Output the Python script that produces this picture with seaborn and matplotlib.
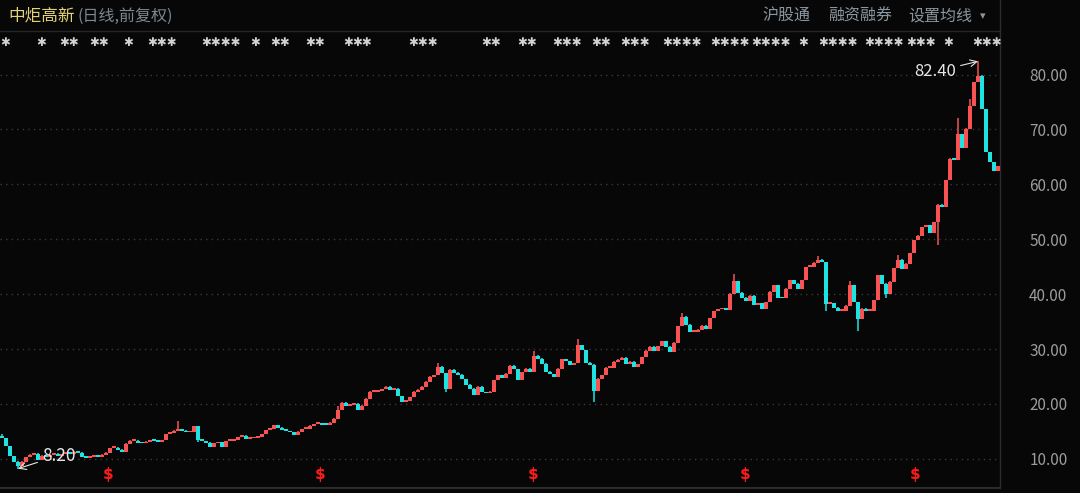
import numpy as np
import matplotlib
matplotlib.use("Agg")
import matplotlib.pyplot as plt
import seaborn as sns

# -----------------------------
# Data (daily closes, one value per candle)
# -----------------------------
closes = [
    13.8, 12.4, 10.6, 9.6, 8.8, 9.6, 10.4, 10.8, 11.0, 9.9,
    10.7, 10.4, 10.8, 11.0, 10.6, 10.9, 11.2, 11.0, 11.4, 11.2,
    10.4, 10.2, 10.4, 10.7, 10.5, 10.8, 11.2, 12.0, 12.1, 11.7,
    11.3, 12.8, 13.4, 13.4, 13.0, 12.9, 13.2, 13.4, 13.3, 13.1,
    13.5, 14.6, 14.8, 15.2, 15.5, 15.2, 14.9, 15.0, 16.0, 13.6,
    13.3, 13.0, 12.3, 12.9, 13.1, 12.3, 13.3, 13.4, 13.5, 14.0,
    14.3, 13.7, 13.8, 13.9, 14.1, 14.6, 15.3, 15.6, 16.2, 15.8,
    15.4, 15.1, 14.9, 14.5, 15.0, 15.5, 15.6, 16.1, 16.4, 16.4,
    16.3, 16.2, 16.7, 17.4, 18.9, 20.3, 19.8, 19.9, 20.1, 18.9,
    19.8, 21.0, 22.3, 22.3, 22.5, 22.8, 23.2, 22.6, 22.9, 21.5,
    20.4, 20.6, 21.3, 22.3, 22.7, 23.2, 24.1, 25.0, 25.3, 26.9,
    25.7, 22.8, 26.3, 25.8, 25.4, 24.6, 23.6, 22.9, 21.8, 23.2,
    22.2, 22.0, 22.3, 24.4, 25.3, 24.9, 25.6, 27.0, 26.4, 24.4,
    25.9, 26.5, 25.9, 28.9, 28.3, 27.4, 26.0, 25.5, 25.0, 26.5,
    28.2, 27.9, 27.2, 27.5, 30.8, 29.9, 27.6, 27.2, 22.5, 24.7,
    25.3, 26.7, 26.7, 27.8, 28.1, 28.5, 27.3, 27.8, 26.8, 27.3,
    28.6, 29.8, 30.5, 29.7, 30.6, 31.5, 30.5, 29.6, 31.2, 34.2,
    36.0, 34.5, 33.2, 33.2, 33.6, 34.3, 33.8, 35.7, 37.0, 37.3,
    37.3, 37.2, 40.2, 42.4, 40.3, 39.4, 38.9, 39.8, 38.2, 38.4,
    37.4, 38.6, 40.5, 41.7, 39.4, 39.3, 41.1, 42.6, 42.0, 41.1,
    42.6, 45.0, 45.0, 45.8, 46.4, 45.9, 38.3, 38.4, 37.6, 37.1,
    37.1, 38.0, 41.7, 38.6, 35.6, 37.4, 37.0, 37.1, 39.0, 43.5,
    42.0, 40.2, 42.3, 44.8, 46.4, 44.7, 45.6, 47.5, 49.9, 50.7,
    52.3, 52.6, 51.2, 53.2, 56.4, 56.0, 60.8, 64.7, 64.5, 69.2,
    66.8, 70.2, 74.4, 78.7, 79.9, 73.8, 65.9, 64.1, 62.6, 63.4,
]
first_open = 14.3

# wick extremes that stand out from the bodies
high_spikes = {0: 14.6, 44: 16.8, 84: 19.6, 109: 27.5, 133: 29.6, 144: 31.9,
               170: 36.6, 183: 43.6, 204: 47.0, 212: 42.4, 224: 47.2,
               239: 72.0, 242: 75.5, 244: 82.4, 246: 69.0}
low_spikes = {4: 8.2, 49: 13.0, 111: 22.2, 148: 20.4, 206: 37.0,
              214: 33.2, 221: 39.2, 234: 49.0}

y_ticks = [10, 20, 30, 40, 50, 60, 70, 80]
y_tick_labels = ["10.00", "20.00", "30.00", "40.00", "50.00", "60.00", "70.00", "80.00"]

title_name = "中炬高新"
title_note = "(日线,前复权)"
header_items = ["沪股通", "融资融券", "设置均线"]

max_label = "82.40"
min_label = "8.20"

# red "$" markers and blurred marker clusters along the top (candle index, count)
dollar_idx = [26.5, 79.5, 132.75, 185.75, 228.25]
marker_groups = [(0.75, 1), (9.75, 1), (16.75, 2), (24.25, 2), (31.5, 1), (40, 3),
                 (54.75, 4), (63.25, 1), (69.5, 2), (78.25, 2), (86.5, 1), (90, 2),
                 (105.25, 3), (122.25, 2), (131.25, 2), (141.25, 3), (149.75, 2),
                 (158.25, 3), (170, 4), (182, 4), (192.25, 4), (200.25, 1),
                 (209, 4), (220.5, 4), (229.75, 3), (236.5, 1), (246.25, 3)]
date_ticks = [52.5, 105, 157.5, 210.5]

# -----------------------------
# Build OHLC
# -----------------------------
closes = np.array(closes)
opens = np.concatenate([[first_open], closes[:-1]])
highs = np.maximum(opens, closes)
lows = np.minimum(opens, closes)
for k, v in high_spikes.items():
    highs[k] = max(highs[k], v)
for k, v in low_spikes.items():
    lows[k] = min(lows[k], v)
idx = np.arange(len(closes))
up = closes >= opens

UP_COL = "#f85252"
DN_COL = "#1fe3e3"
BG = "#070707"

# -----------------------------
# Figure
# -----------------------------
sns.set_theme(style="dark")
plt.rcParams["font.family"] = ["Noto Sans CJK SC", "DejaVu Sans"]

W, H = 1080, 493
fig = plt.figure(figsize=(W / 100, H / 100), dpi=100, facecolor=BG)
ax = fig.add_axes([0, 5 / H, 1000 / W, (488 - 31) / H], facecolor=BG)

n = len(closes)
ax.set_xlim(-0.5, n - 0.5)
# 80 at y=74.5px, 5.49 px per unit
ax.set_ylim(80 - (488 - 74.5) / 5.49, 80 + (74.5 - 31) / 5.49)

for yv in y_ticks:
    ax.axhline(yv, color="#3a3a3a", lw=1, ls=(0, (1, 3)), zorder=1)

colors = np.where(up, UP_COL, DN_COL)
ax.vlines(idx, lows, highs, colors=colors, lw=1.1, zorder=2)
body_h = np.maximum(np.abs(closes - opens), 0.35)
ax.bar(idx, body_h, bottom=np.minimum(opens, closes) - 0.1, width=0.85,
       color=colors, linewidth=0, zorder=3)

# right axis
ax.yaxis.tick_right()
ax.set_yticks(y_ticks)
ax.set_yticklabels(y_tick_labels)
ax.tick_params(axis="y", length=0, pad=21, labelsize=11, labelcolor="#9c9c9c")
ax.set_xticks(date_ticks)
ax.set_xticklabels([])
ax.tick_params(axis="x", length=5, width=1, color="#303030", direction="out", pad=0)
ax.grid(False)
for s in ["top", "left"]:
    ax.spines[s].set_visible(False)
ax.spines["right"].set_color("#2c2c2c")
ax.spines["bottom"].set_color("#2c2c2c")
ax.spines["right"].set_linewidth(1)
ax.spines["bottom"].set_linewidth(1.5)

# max / min annotations
imax = int(np.argmax(highs))
imin = int(np.argmin(lows))
ax.annotate(max_label, xy=(imax, highs[imax]), xytext=(imax - 5.5, highs[imax] - 1.9),
            color="#e6e6e6", fontsize=12, ha="right", va="center",
            arrowprops=dict(arrowstyle="->", color="#e6e6e6", lw=0.8,
                            shrinkA=1, shrinkB=0))
ax.annotate(min_label, xy=(imin, lows[imin]), xytext=(imin + 6, lows[imin] + 2.4),
            color="#e6e6e6", fontsize=12.5, ha="left", va="center",
            arrowprops=dict(arrowstyle="->", color="#e6e6e6", lw=0.8,
                            shrinkA=1, shrinkB=0))

# red $ markers at the bottom
trans_b = ax.get_xaxis_transform()
for d in dollar_idx:
    ax.text(d, (488 - 475) / (488 - 31), "\\$", transform=trans_b, color="#ff1a1a",
            fontsize=11, fontweight="bold", ha="center", va="center",
            family=["DejaVu Sans"])

# blurred marker row along the top
for g, cnt in marker_groups:
    ax.text(g, (488 - 42) / (488 - 31), "✱" * cnt, transform=trans_b, color="#d2d2d2",
            fontsize=8.5, ha="center", va="center", family=["DejaVu Sans"])

# header
fig.add_artist(plt.Line2D([0, 1000 / W], [1 - 31 / H, 1 - 31 / H],
                          color="#262626", lw=1))
fig.add_artist(plt.Line2D([1000 / W, 1000 / W], [1 - 31 / H, 1],
                          color="#2c2c2c", lw=1))
fig.text(8 / W, 1 - 16 / H, title_name, color="#e3d27c", fontsize=12,
         ha="left", va="center")
fig.text(78 / W, 1 - 16 / H, title_note, color="#7d8790", fontsize=11.5,
         ha="left", va="center")
fig.text(762 / W, 1 - 16 / H, header_items[0], color="#8a96a0", fontsize=11.5,
         ha="left", va="center")
fig.text(828 / W, 1 - 16 / H, header_items[1], color="#8a96a0", fontsize=11.5,
         ha="left", va="center")
fig.text(908 / W, 1 - 16 / H, header_items[2], color="#8a96a0", fontsize=11.5,
         ha="left", va="center")
fig.text(983 / W, 1 - 16 / H, "▾", color="#8a96a0", fontsize=8,
         ha="center", va="center", family=["DejaVu Sans"])

fig.savefig("out.png", dpi=100, facecolor=BG)
plt.close(fig)
